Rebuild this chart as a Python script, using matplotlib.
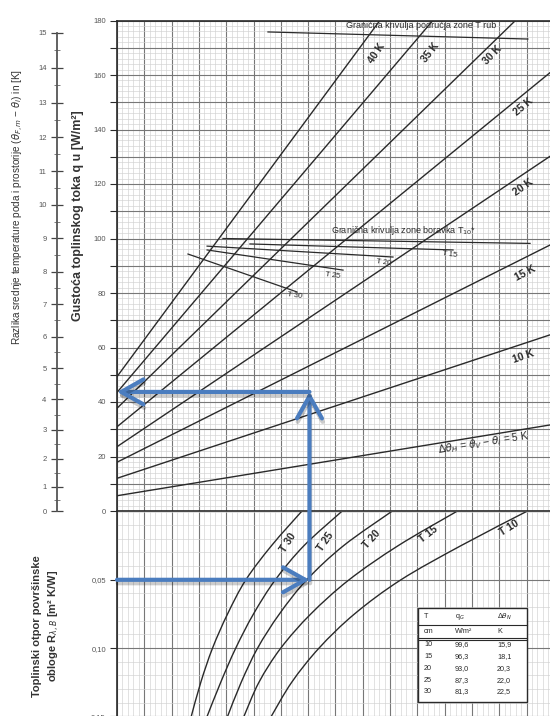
import numpy as np
import matplotlib
matplotlib.use("Agg")
import matplotlib.pyplot as plt
from matplotlib.patches import Rectangle, ConnectionPatch, PathPatch
from matplotlib.path import Path
from matplotlib.lines import Line2D
import matplotlib.patheffects as pe

plt.rcParams['font.family'] = ['Liberation Sans', 'DejaVu Sans']
plt.rcParams['mathtext.fontset'] = 'dejavusans'

# ---------------- data ----------------
dtheta_H = [5, 10, 15, 20, 25, 30, 35, 40]                       # K
q_left = [5.6, 12.0, 17.9, 23.6, 30.9, 37.7, 43.5, 49.3]         # q at x = 0
q_right = [31.8, 65.1, 98.3, 131.1, 162.0, 193.7, 232.3, 266.5]  # q at x = 16
x_span = [0.0, 16.0]

spacing_T = [10, 15, 20, 25, 30]                                  # cm
limit_x_start = [3.88, 4.87, 3.30, 3.30, 2.60]
limit_q_start = [100.0, 98.0, 97.2, 95.8, 94.3]
limit_x_end = [15.13, 12.31, 10.11, 8.28, 6.59]
limit_q_end = [98.2, 95.8, 93.2, 88.4, 80.4]

rub_x = [5.53, 15.05]
rub_q = [175.8, 173.2]

R_levels = [0.0, 0.025, 0.05, 0.075, 0.10, 0.125, 0.15]
x_T10 = [15.0, 12.6, 10.4, 8.7, 7.4, 6.4, 5.65]
x_T15 = [12.44, 10.3, 8.5, 7.1, 6.0, 5.2, 4.65]
x_T20 = [10.06, 8.3, 6.95, 5.95, 5.15, 4.55, 4.05]
x_T25 = [8.23, 6.85, 5.8, 5.0, 4.35, 3.8, 3.3]
x_T30 = [6.76, 5.66, 4.72, 4.05, 3.50, 3.07, 2.72]

table_T = ["10", "15", "20", "25", "30"]
table_qG = ["99,6", "96,3", "93,0", "87,3", "81,3"]
table_dT = ["15,9", "18,1", "20,3", "22,0", "22,5"]

q_ticks = [0, 20, 40, 60, 80, 100, 120, 140, 160, 180]
K_ticks = list(range(16))
R_ticks = [0.05, 0.10, 0.15]
R_ticklabels = ["0,05", "0,10", "0,15"]

example_x = 7.05
example_R = 0.05
example_q = 43.7

# ---------------- figure ----------------
W, H = 550, 716
fig = plt.figure(figsize=(5.5, 7.16), dpi=100)
def fx(px): return px / W
def fy(py): return 1 - py / H

INK = '#2a2a2a'
GRID_MAJ = '#777777'
GRID_MIN = '#d2d2d2'
BLUE = '#4B7DBF'

x_left_px, x_right_px = 117, 553.8
q_top_px, q0_px = 20.5, 511.0
R0_px, R_scale = 511.5, 1366.0

ax1 = fig.add_axes([fx(x_left_px), fy(q0_px), (x_right_px - x_left_px) / W, (q0_px - q_top_px) / H])
ax1.set_xlim(0, 16)
ax1.set_ylim(0, 180)

ax2_h = 0.17 * R_scale
ax2 = fig.add_axes([fx(x_left_px), fy(R0_px + ax2_h), (x_right_px - x_left_px) / W, ax2_h / H])
ax2.set_xlim(0, 16)
ax2.set_ylim(0.17, 0)

for ax in (ax1, ax2):
    ax.set_axisbelow(True)
    ax.set_xticks(np.arange(0, 16.01, 1))
    ax.set_xticks(np.arange(0, 16.01, 0.2), minor=True)
    ax.tick_params(axis='x', which='both', length=0, labelbottom=False)
    ax.grid(which='major', color=GRID_MAJ, lw=0.8)
    ax.grid(which='minor', color=GRID_MIN, lw=0.45)
    ax.spines['right'].set_visible(False)
    for s in ('left', 'top', 'bottom'):
        ax.spines[s].set_color(INK)
        ax.spines[s].set_linewidth(1.2)
    ax.patch.set_alpha(0)

ax1.set_yticks(np.arange(0, 181, 10))
ax1.set_yticks(np.arange(0, 181, 2), minor=True)
ax1.set_yticklabels([str(v) if v in q_ticks else '' for v in np.arange(0, 181, 10)])
ax1.tick_params(axis='y', which='major', length=5, width=0.8, color=INK, labelsize=5.5,
                labelcolor='#555', pad=3)
ax1.tick_params(axis='y', which='minor', length=0)

ax2.set_yticks(R_ticks)
ax2.set_yticklabels(R_ticklabels)
ax2.set_yticks(np.arange(0, 0.1701, 0.01), minor=True)
ax2.tick_params(axis='y', which='major', length=5, width=0.8, color=INK, labelsize=5.5,
                labelcolor='#555', pad=3)
ax2.tick_params(axis='y', which='minor', length=0)
ax2.spines['top'].set_visible(False)

# auxiliary left scale (K)
axk = fig.add_axes([fx(57), fy(q0_px), 0.0005, (q0_px - q_top_px) / H])
axk.set_ylim(0, 180)
axk.set_xticks([])
for s in ('right', 'top', 'bottom'):
    axk.spines[s].set_visible(False)
kpos = [8.92 * k ** 1.1 for k in K_ticks]
axk.spines['left'].set_bounds(0, kpos[-1])
axk.spines['left'].set_color('#555')
axk.spines['left'].set_linewidth(1.3)
axk.set_yticks(kpos)
axk.set_yticklabels([str(k) for k in K_ticks])
axk.set_yticks([8.92 * (k + 0.5) ** 1.1 for k in K_ticks[:-1]], minor=True)
axk.tick_params(axis='y', which='major', direction='inout', length=9, width=0.9, color='#444',
                labelsize=5.5, labelcolor='#555', pad=3)
axk.tick_params(axis='y', which='minor', direction='inout', length=4, width=0.6, color='#666')
axk.patch.set_alpha(0)

# ---------------- upper: heat flux lines ----------------
for ql, qr in zip(q_left, q_right):
    ax1.plot(x_span, [ql, qr], color=INK, lw=1.0, zorder=3)

for xs, qs, xe, qe in zip(limit_x_start, limit_q_start, limit_x_end, limit_q_end):
    ax1.plot([xs, xe], [qs, qe], color=INK, lw=0.9, zorder=3)
ax1.plot(rub_x, rub_q, color=INK, lw=0.9, zorder=3)

lab_kw = dict(fontsize=7.5, fontweight='bold', color=INK, ha='center', va='center', zorder=5)
line_labels = [("40 K", 9.52, 168.1, 56), ("35 K", 11.47, 168.1, 52), ("30 K", 13.77, 167.3, 46),
               ("25 K", 14.87, 148.3, 40), ("20 K", 14.87, 118.9, 35), ("15 K", 14.95, 87.3, 28),
               ("10 K", 14.87, 56.5, 19)]
for t, x, y, r in line_labels:
    ax1.text(x, y, t, rotation=r, **lab_kw)
ax1.text(13.41, 25.0, r"$\Delta\theta_H$ = $\theta_V$ − $\theta_i$ = 5 K", rotation=9,
         fontsize=7.5, color=INK, ha='center', va='center', zorder=5)

ax1.text(11.14, 178.2, "Granična krivulja područja zone T rub", fontsize=6.5, color=INK,
         ha='center', va='center', zorder=5)
ax1.text(10.5, 102.8, r"Granična krivulja zone boravka T$_{10}$*", fontsize=6.5, color=INK,
         ha='center', va='center', zorder=5)
lim_labels = [("T 15", 12.2, 94.0), ("T 20", 9.75, 91.0), ("T 25", 7.9, 86.5), ("T 30", 6.5, 79.0)]
for t, x, y in lim_labels:
    ax1.text(x, y, t, fontsize=5.5, color=INK, ha='center', va='center', rotation=-8, zorder=5)

# ---------------- lower: R curves (smooth curve through the read points) ----------------
def smooth_path(xs, ys):
    P = np.column_stack([xs, ys]).astype(float)
    n = len(P)
    verts = [P[0]]
    codes = [Path.MOVETO]
    for i in range(n - 1):
        p0 = P[i - 1] if i > 0 else P[i]
        p1, p2 = P[i], P[i + 1]
        p3 = P[i + 2] if i + 2 < n else P[i + 1]
        c1 = p1 + (p2 - p0) / 6.0
        c2 = p2 - (p3 - p1) / 6.0
        verts += [c1, c2, p2]
        codes += [Path.CURVE4] * 3
    return Path(verts, codes)

for xs in (x_T10, x_T15, x_T20, x_T25, x_T30):
    ax2.add_patch(PathPatch(smooth_path(xs, R_levels), fill=False, edgecolor=INK, lw=1.0, zorder=3))
low_labels = [("T 30", 6.26, 0.0229, 57), ("T 25", 7.62, 0.0222, 55), ("T 20", 9.34, 0.0207, 48),
              ("T 15", 11.39, 0.017, 38), ("T 10", 14.36, 0.0119, 32)]
for t, x, y, r in low_labels:
    ax2.text(x, y, t, rotation=r, **lab_kw)

# ---------------- table ----------------
tl, tr, tt, tb = 418, 527, 608, 702
fig.add_artist(Rectangle((fx(tl), fy(tb)), (tr - tl) / W, (tb - tt) / H, transform=fig.transFigure,
                         facecolor='white', edgecolor=INK, lw=1.0, zorder=6))
for yy in (625, 637.5, 639.5):
    fig.add_artist(Line2D([fx(tl), fx(tr)], [fy(yy), fy(yy)], transform=fig.transFigure,
                          color=INK, lw=0.8, zorder=7))
cols = [424, 455, 497]
tkw = dict(fontsize=5.2, color=INK, ha='left', va='center', zorder=8)
fig.text(fx(cols[0]), fy(617), "T", **tkw)
fig.text(fx(cols[1]), fy(617), r"q$_G$", **tkw)
fig.text(fx(cols[2]), fy(617), r"$\Delta\theta_N$", **tkw)
fig.text(fx(cols[0]), fy(631.5), "cm", **tkw)
fig.text(fx(cols[1]), fy(631.5), "W/m²", **tkw)
fig.text(fx(cols[2]), fy(631.5), "K", **tkw)
for i, (a, b, c) in enumerate(zip(table_T, table_qG, table_dT)):
    yy = 645 + i * 11.7
    fig.text(fx(cols[0]), fy(yy), a, **tkw)
    fig.text(fx(cols[1]), fy(yy), b, **tkw)
    fig.text(fx(cols[2]), fy(yy), c, **tkw)

# ---------------- axis titles ----------------
fig.text(fx(18), fy(207), r"Razlika srednje temperature poda i prostorije ($\theta_{F,m}$ − $\theta_i$) in [K]",
         rotation=90, ha='center', va='center', fontsize=7.2, color='#333')
fig.text(fx(78), fy(216), "Gustoća toplinskog toka q u [W/m²]", rotation=90, ha='center',
         va='center', fontsize=9, color='#333', fontweight='bold')
fig.text(fx(47), fy(626), "Toplinski otpor površinske\n" + r"obloge R$_{\lambda,B}$ [m² K/W]", rotation=90,
         ha='center', va='center', fontsize=8, color='#333', fontweight='bold', multialignment='center',
         linespacing=1.4)

# ---------------- example arrows ----------------
shadow = [pe.SimpleLineShadow(offset=(0.5, -2.5), shadow_color='k', alpha=0.2), pe.Normal()]
astyle = '->,head_length=0.8,head_width=0.45'
arrows = [((0, example_R), ax2, (example_x, example_R), ax2),
          ((example_x, example_R), ax2, (example_x, example_q), ax1),
          ((example_x, example_q), ax1, (0, example_q), ax1)]
for (a, axa, b, axb) in arrows:
    con = ConnectionPatch(xyA=a, coordsA=axa.transData, xyB=b, coordsB=axb.transData,
                          arrowstyle=astyle, mutation_scale=20, lw=3.0, color=BLUE,
                          shrinkA=0, shrinkB=0, zorder=10)
    con.set_path_effects(shadow)
    fig.add_artist(con)

fig.savefig("out.png", dpi=100)
